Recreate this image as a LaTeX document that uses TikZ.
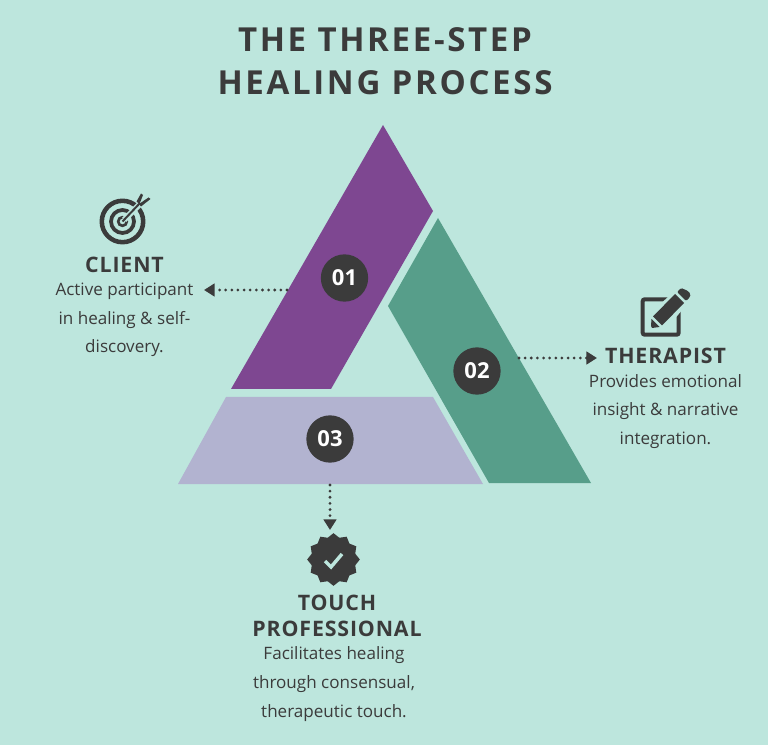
\documentclass[tikz,border=0pt]{standalone}
\usepackage{fontspec}
\setmainfont{Open Sans}
\newfontfamily\titlefont[LetterSpace=8]{Open Sans}
\newfontfamily\headfont[LetterSpace=4]{Open Sans}
\usetikzlibrary{shapes.geometric,arrows.meta}
\definecolor{mint}{HTML}{BDE6DD}
\definecolor{plum}{HTML}{7E4791}
\definecolor{sea}{HTML}{579E8A}
\definecolor{lilac}{HTML}{B2B3D0}
\definecolor{ink}{HTML}{3B3B3B}
\tikzset{
  numdot/.style={circle,fill=ink,text=white,minimum size=35.5pt,inner sep=0pt,font=\fontsize{16.5}{18}\selectfont\bfseries},
  heading/.style={text=ink,align=center,font=\fontsize{16}{19.5}\selectfont\headfont\bfseries},
  blurb/.style={text=ink,align=center,font=\fontsize{12.8}{21.5}\selectfont},
  dotline/.style={ink,line width=2.3pt,line cap=round,dash pattern=on 0pt off 4.6pt,-{Triangle[length=8pt,width=9.5pt,sep=0pt]}}
}
\begin{document}
\begin{tikzpicture}[x=0.75pt,y=-0.75pt]
   \useasboundingbox (0,0) rectangle (768,745);
   \fill[mint] (0,0) rectangle (768,745);
   \node[text=ink,align=center,font=\fontsize{24.8}{32}\selectfont\titlefont\bfseries] (title) at (385,61.5) {THE THREE-STEP\\HEALING PROCESS};
   % the three bands
   \fill[plum] (383,125) -- (433,211) -- (331,389) -- (231,389) -- cycle;
   \fill[sea] (438,218) -- (591,483) -- (489,483) -- (388,306) -- cycle;
   \fill[lilac] (226,397) -- (433,397) -- (483,484) -- (178,484) -- cycle;
   \node[numdot] (one) at (344.5,278) {01};
   \node[numdot] (two) at (477,371) {02};
   \node[numdot] (three) at (330,439) {03};
   % client
   \node[heading] (client) at (124.5,265) {CLIENT};
   \node[blurb] (clienttext) at (124.5,320) {Active participant\\in healing \& self-\\discovery.};
   \coordinate (clientstart) at (287,290);
   \coordinate (clientend) at (204,290);
   \draw[dotline] (clientstart) -- (clientend);
   \draw[ink,line width=3.4pt] (122.5,221.5) circle (20.7);
   \draw[ink,line width=2.8pt] (122.5,221.5) circle (11.5);
   \draw[ink,line width=2pt] (122.5,221.5) circle (4.3);
   \draw[mint,line width=4.5pt] (124,220) -- (146,198);
   \draw[ink,line width=1.5pt] (122.5,221.5) -- (140,203);
   \fill[ink] (136.5,201.5) -- (141,193.5) -- (143,195) -- (139.5,204) -- cycle;
   \fill[ink] (141,206.5) -- (150.5,199) -- (148.5,197.5) -- (139,204) -- cycle;
   % therapist
   \node[heading] (therapist) at (665.5,356) {THERAPIST};
   \node[blurb] (therapisttext) at (665.5,411.5) {Provides emotional\\insight \& narrative\\integration.};
   \coordinate (therapiststart) at (519,358);
   \coordinate (therapistend) at (597,358);
   \draw[dotline] (therapiststart) -- (therapistend);
   \draw[ink,line width=3pt,rounded corners=1.5pt] (668,299.3) -- (642.7,299.3) -- (642.7,334.7) -- (678.7,334.7) -- (678.7,310);
   \fill[mint] (650,330) -- (655,309) -- (682,284) -- (694,296) -- (672,322) -- cycle;
   \fill[ink,rounded corners=1pt] (683.5,289) -- (688,291) -- (690.5,294) -- (690,297) -- (686,301) -- (677,292) -- (681,288) -- cycle;
   \fill[ink] (675,294) -- (684,303) -- (662,325.5) -- (653,316.5) -- cycle;
   \fill[ink] (651.5,319) -- (659.5,327) -- (652,328) -- (651,326) -- cycle;
   % touch professional
   \node[heading] (touch) at (337,616) {TOUCH\\PROFESSIONAL};
   \node[blurb] (touchtext) at (334,684) {Facilitates healing\\through consensual,\\therapeutic touch.};
   \coordinate (touchstart) at (330,485);
   \coordinate (touchend) at (330,530);
   \draw[dotline] (touchstart) -- (touchend);
   \node[star,star points=12,star point ratio=1.17,fill=ink,minimum size=39.5pt,inner sep=0pt] (badge) at (333.5,559.5) {};
   \draw[mint,line width=2.6pt] (325,561) -- (331,567) -- (342,554);
\end{tikzpicture}
\end{document}
